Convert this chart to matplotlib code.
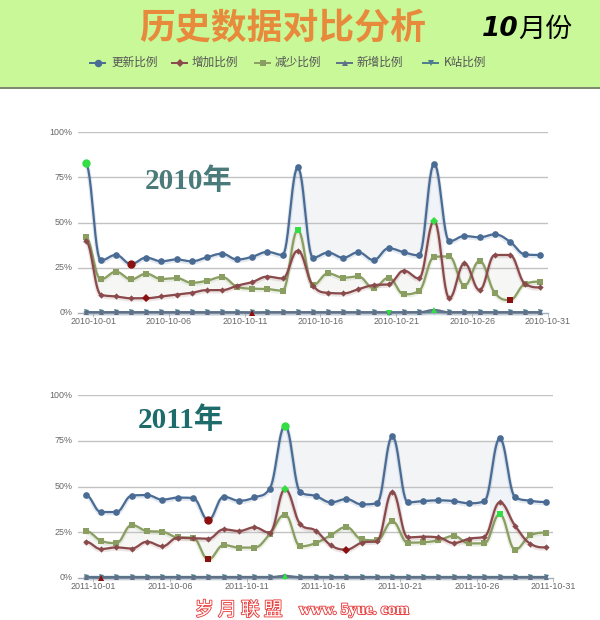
import numpy as np
import matplotlib
matplotlib.use('Agg')
import matplotlib.pyplot as plt
import matplotlib.patheffects as pe
from matplotlib.lines import Line2D
from matplotlib.patches import Rectangle

W, H = 600, 620
CJK = ['Noto Sans CJK SC', 'DejaVu Sans']
SERIF = ['Liberation Serif', 'Noto Sans CJK SC']

series_names = ['更新比例', '增加比例', '减少比例', '新增比例', 'K站比例']
y_labels = ['0%', '25%', '50%', '75%', '100%']
y_ticks = [0, 25, 50, 75, 100]

dates_2010 = ['2010-10-%02d' % d for d in range(1, 32)]
update_2010 = [83, 29, 32, 27, 30.5, 28.5, 29.5, 28.5, 30.7, 32.7, 29.5, 31, 33.7, 32, 80.5, 30.5,
               33.3, 30.5, 33.5, 29.2, 35.7, 33.5, 31.8, 82.6, 39.6, 42.5, 41.8, 43.4, 39.4, 32.3, 32]
add_2010 = [40, 10, 9, 8, 8, 9, 10, 11, 12.5, 12.5, 15, 17, 20, 19, 34.4, 15,
            11, 10.7, 13, 15.3, 15.7, 23.3, 19, 51, 8, 27.4, 12.5, 32, 32, 16, 14]
cut_2010 = [42, 18.5, 22.7, 18.5, 21.6, 18.7, 19.2, 16.6, 17.7, 19.8, 14.4, 13.3, 13.1, 12.2, 45.8, 15.3,
            21.8, 19.4, 20.1, 13.7, 19.4, 10.2, 12, 30.9, 31.2, 15, 28.7, 11, 7, 16, 17.2]
new_2010 = [0.3, 0.2, 0.3, 0.2, 0.3, 0.2, 0.2, 0.2, 0.2, 0.2, 0.2, 0, 0.2, 0.2, 0.3, 0.2,
            0.2, 0.2, 0.2, 0.2, 0.2, 0.2, 0.2, 1.5, 0.2, 0.2, 0.2, 0.2, 0.2, 0.2, 0.2]
kz_2010 = [0.2] * 20 + [0] + [0.2] * 10

dates_2011 = ['2011-10-%02d' % d for d in range(1, 32)]
update_2011 = [45.3, 36, 36, 45, 45.3, 42.8, 43.9, 43.7, 31.6, 44.4, 42.2, 44, 48.8, 83.4, 46.8, 44.8,
               41.3, 43.1, 40.2, 40.8, 77.5, 41.3, 42, 42.4, 42, 40.8, 41.9, 76.4, 44.2, 42.2, 41.5]
add_2011 = [19.7, 15.7, 16.6, 16, 19.7, 17.2, 21.9, 21.6, 21.4, 26.5, 25.6, 27.6, 24.7, 48.6, 29.3, 25.8,
            17.7, 15.4, 19.2, 20.1, 47.2, 22.1, 22.5, 22.1, 19, 21.4, 22.5, 41.3, 28.5, 18.6, 16.6]
cut_2011 = [25.6, 20.3, 19, 28.9, 25.6, 25.2, 22.1, 21.9, 10, 17.9, 16.5, 16.5, 23.9, 34.6, 17.2, 19,
            23.4, 27.8, 21, 20.5, 30.9, 19.2, 19.4, 20.5, 22.9, 18.8, 18.8, 34.9, 15.4, 23.2, 24.7]
new_2011 = [0.2, 0, 0.2, 0.2, 0.2, 0.2, 0.2, 0.2, 0.2, 0.2, 0.2, 0.2, 0.2, 1, 0.2, 0.2,
            0.2, 0.2, 0.2, 0.2, 0.2, 0.2, 0.2, 0.2, 0.2, 0.2, 0.2, 0.2, 0.2, 0.2, 0.2]
kz_2011 = [0.2] * 31

COLORS = ['#4a6c94', '#8a4a4c', '#8a9e62', '#5f7088', '#4d7c8c']
MARKERS = ['o', 'D', 's', '^', 'v']
SIZES = [4.8, 3.2, 3.8, 3.6, 3.6]
HI_MAX = '#33dd44'
HI_MIN = '#8b1010'


def spline(vals, n=12):
    """Highcharts 风格的样条曲线，返回采样后的 x, y"""
    y = np.asarray(vals, dtype=float)
    k = 1.5
    left, right = y.copy(), y.copy()
    for i in range(1, len(y) - 1):
        ly = (k * y[i] + y[i - 1]) / (k + 1)
        ry = (k * y[i] + y[i + 1]) / (k + 1)
        corr = (ry - ly) * 0.5 + y[i] - ry
        ly += corr
        ry += corr
        if (ly > y[i] and ly > y[i - 1]) or (ly < y[i] and ly < y[i - 1]):
            ly = max(y[i], y[i - 1]) if ly > y[i] else min(y[i], y[i - 1])
            ry = 2 * y[i] - ly
        elif (ry > y[i] and ry > y[i + 1]) or (ry < y[i] and ry < y[i + 1]):
            ry = max(y[i], y[i + 1]) if ry > y[i] else min(y[i], y[i + 1])
            ly = 2 * y[i] - ry
        left[i], right[i] = ly, ry
    xs, ys = [], []
    t = np.linspace(0, 1, n, endpoint=False)
    for i in range(len(y) - 1):
        x0, x1 = i, i + 1
        cx0, cx1 = i + 1 / (k + 1), i + 1 - 1 / (k + 1)
        xs.append((1 - t) ** 3 * x0 + 3 * (1 - t) ** 2 * t * cx0 + 3 * (1 - t) * t ** 2 * cx1 + t ** 3 * x1)
        ys.append((1 - t) ** 3 * y[i] + 3 * (1 - t) ** 2 * t * right[i] + 3 * (1 - t) * t ** 2 * left[i + 1] + t ** 3 * y[i + 1])
    return np.append(np.concatenate(xs), len(y) - 1), np.append(np.concatenate(ys), y[-1])


def draw_chart(box, dates, data, highlights, shade):
    left, right, top, bottom = box
    ax = fig.add_axes([left / W, 1 - bottom / H, (right - left) / W, (bottom - top) / H])
    ax.set_xlim(-0.5, 30.5)
    ax.set_ylim(0, 100)
    ax.patch.set_alpha(0)
    for s in ['top', 'left', 'right']:
        ax.spines[s].set_visible(False)
    ax.spines['bottom'].set_color('#9fb0bd')
    ax.spines['bottom'].set_linewidth(1)

    ax.set_yticks(y_ticks, y_labels, fontsize=6.4, color='#666666', family='Liberation Sans', va='center')
    ax.tick_params(axis='y', length=0, pad=4)
    idx = list(range(0, 31, 5))
    ax.set_xticks([i + 0.5 for i in idx], [dates[i] for i in idx], fontsize=6.4, color='#666666',
                  family='Liberation Sans')
    ax.tick_params(axis='x', length=3, width=0.7, color='#c0c0c0', pad=0)
    for v in y_ticks[1:]:
        ax.axhline(v, color='#c2c2c2', lw=1, zorder=1)

    curves = [spline(vals) for vals in data]
    bx, by = curves[0]
    rx, ry = curves[1]
    gx, gy = curves[2]

    # 阴影区域
    mask = (bx >= shade[0]) & (bx <= shade[1])
    ax.fill_between(bx[mask], np.minimum(by[mask], 75), 75, color='#eceef1', alpha=0.6, lw=0, zorder=0)
    ax.fill_between(bx, by, np.maximum(ry, gy), where=(by > 50) & (bx > 1), color='#dfe7f1', alpha=0.45,
                    lw=0, zorder=0)
    ax.fill_between(gx, gy, ry, color='#eceee9', alpha=0.45, lw=0, zorder=0)

    for i, (vals, (cx, cy)) in enumerate(zip(data, curves)):
        z = 6 - i
        ax.plot(cx, cy - 0.6, color=COLORS[i], lw=3.2, alpha=0.15, zorder=z, clip_on=False)
        ax.plot(cx, cy, color=COLORS[i], lw=1.6, zorder=z, clip_on=False)
        ax.plot(range(len(vals)), vals, ls='none', marker=MARKERS[i], ms=SIZES[i], color=COLORS[i],
                mew=0, zorder=z, clip_on=False)

    for series, pos, colour in highlights:
        ax.plot([pos], [data[series][pos]], ls='none', marker=MARKERS[series], ms=SIZES[series] + 1.2,
                color=colour, mew=0, zorder=10, clip_on=False)
    return ax


fig = plt.figure(figsize=(W / 100, H / 100), dpi=100, facecolor='white')

# 顶部横幅和图例用像素坐标
over = fig.add_axes([0, 0, 1, 1], zorder=-1)
over.set_xlim(0, W)
over.set_ylim(H, 0)
over.axis('off')
over.add_patch(Rectangle((0, 0), W, 87, color='#c8f898', lw=0))
over.add_patch(Rectangle((0, 87), W, 2, color='#7c8a70', lw=0))

top = fig.add_axes([0, 0, 1, 1], zorder=5)
top.set_xlim(0, W)
top.set_ylim(H, 0)
top.axis('off')
top.patch.set_alpha(0)
top.text(283, 29, '历史数据对比分析', fontsize=25.8, fontweight='bold', color='#e88a3c', family=CJK,
         ha='center', va='center')
top.text(482, 29, '10', fontsize=19, fontweight='bold', style='italic', color='black',
         family='DejaVu Sans', ha='left', va='center')
top.text(518, 29, '月份', fontsize=19.5, color='black', family=CJK, ha='left', va='center')

handle_x = [90, 172, 255, 337, 423]
text_x = [111, 192, 275, 357, 444]
for hx, tx, name, c, m, s in zip(handle_x, text_x, series_names, COLORS, MARKERS, SIZES):
    top.add_line(Line2D([hx, hx + 15], [63, 63], color=c, lw=1.4, marker=None))
    top.plot([hx + 7.5], [63], marker=m, ms=s + 0.6, color=c, mew=0)
    top.text(tx, 62, name, fontsize=8.4, color='#555555', family=CJK, ha='left', va='center')

top.text(145, 181, '2010年', fontsize=21, fontweight='bold', color='#4a7a7a', family=SERIF, ha='left', va='center')
top.text(138, 420, '2011年', fontsize=21, fontweight='bold', color='#1d6b6b', family=SERIF, ha='left', va='center')

outline = [pe.withStroke(linewidth=1.3, foreground='#e8403f')]
top.text(195, 610, '岁 月 联 盟', fontsize=13.5, color='white', family=CJK, ha='left', va='center',
         path_effects=outline)
top.text(299, 610, 'www. 5yue. com', fontsize=11.5, color='white', family='Liberation Serif', fontweight='bold',
         ha='left', va='center', path_effects=outline)

draw_chart((78, 547.8, 132.3, 312.7), dates_2010,
           [update_2010, add_2010, cut_2010, new_2010, kz_2010],
           [(0, 0, HI_MAX), (0, 3, HI_MIN), (1, 23, HI_MAX), (1, 4, HI_MIN), (2, 14, HI_MAX), (2, 28, HI_MIN),
            (3, 23, HI_MAX), (3, 11, HI_MIN), (4, 20, HI_MAX)], (14, 23))
draw_chart((78, 553.4, 395.3, 577.7), dates_2011,
           [update_2011, add_2011, cut_2011, new_2011, kz_2011],
           [(0, 13, HI_MAX), (0, 8, HI_MIN), (1, 13, HI_MAX), (1, 17, HI_MIN), (2, 27, HI_MAX), (2, 8, HI_MIN),
            (3, 13, HI_MAX), (3, 1, HI_MIN)], (13, 27))

fig.savefig('out.png', dpi=100, facecolor='white')
